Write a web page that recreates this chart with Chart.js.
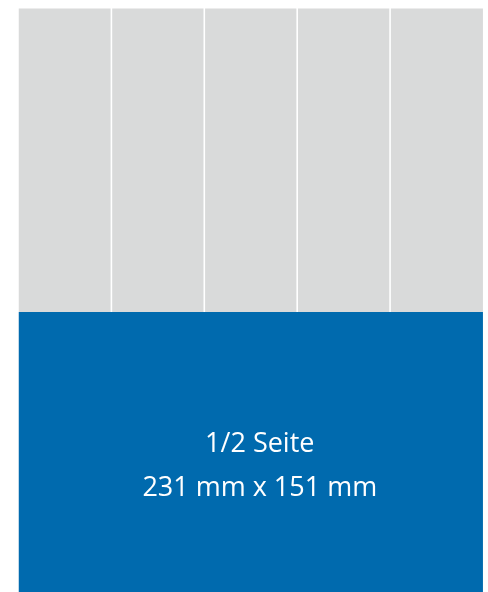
<!DOCTYPE html>
<html>
<head>
<meta charset="utf-8">
<style>
  html, body { margin: 0; padding: 0; background: #ffffff; }
  #wrap { width: 488px; height: 592px; position: relative; }
</style>
<script src="https://cdn.jsdelivr.net/npm/chart.js@4/dist/chart.umd.min.js"></script>
</head>
<body>
<div id="wrap"><canvas id="layoutChart"></canvas></div>
<script>
// page format in mm (magazine page, 5 text columns)
const pageWidthMm = 231;
const pageHeightMm = 302;
const adHeightMm = 151;
const columnEdgesMm = [0, 46.2, 92.4, 138.6, 184.8, 231];
const adLabelLines = ["1/2 Seite", "231 mm x 151 mm"];
const adLabelPosMm = { x: 120, y: 74.5 };

const gray = "#d9dada";
const blue = "#006aae";

// gray upper half of the page
const pageArea = {
    label: "Seite",
    data: [{ x: 0, y: pageHeightMm }, { x: pageWidthMm, y: pageHeightMm }],
    backgroundColor: gray,
    borderColor: "rgba(0,0,0,0)",
    borderWidth: 0,
    pointRadius: 0,
    fill: { value: adHeightMm },
    order: 3
};

// blue ad block (runs off the bottom of the picture)
const adArea = {
    label: "1/2 Seite",
    data: [{ x: 0, y: adHeightMm }, { x: pageWidthMm, y: adHeightMm }],
    backgroundColor: blue,
    borderColor: "rgba(0,0,0,0)",
    borderWidth: 0,
    pointRadius: 0,
    fill: "start",
    order: 2
};

// white column rules in the gray part
const columnRules = columnEdgesMm.slice(1, -1).map(x => ({
    label: "Spalte",
    data: [{ x: x, y: adHeightMm }, { x: x, y: pageHeightMm + 2 }],
    borderColor: "#ffffff",
    borderWidth: 1.6,
    pointRadius: 0,
    fill: false,
    order: 1
}));

const adLabelPlugin = {
    id: "adLabel",
    afterDatasetsDraw(chart) {
        const { ctx, scales } = chart;
        const cx = scales.x.getPixelForValue(adLabelPosMm.x);
        const cy = scales.y.getPixelForValue(adLabelPosMm.y);
        const lineGap = 44;
        ctx.save();
        ctx.fillStyle = "#ffffff";
        ctx.font = "27px 'Open Sans'";
        ctx.textAlign = "center";
        ctx.textBaseline = "middle";
        adLabelLines.forEach((line, i) => {
            const offset = (i - (adLabelLines.length - 1) / 2) * lineGap;
            ctx.fillText(line, cx, cy + offset);
        });
        ctx.restore();
    }
};

new Chart(document.getElementById("layoutChart"), {
    type: "line",
    data: { datasets: [pageArea, adArea, ...columnRules] },
    options: {
        responsive: true,
        maintainAspectRatio: false,
        animation: false,
        layout: { padding: 0 },
        elements: { line: { tension: 0 } },
        plugins: {
            legend: { display: false },
            tooltip: { enabled: false }
        },
        scales: {
            x: { type: "linear", min: -9.2, max: 233.5, display: false },
            y: { type: "linear", min: 11.8, max: 306.2, display: false }
        }
    },
    plugins: [adLabelPlugin]
});
</script>
</body>
</html>
